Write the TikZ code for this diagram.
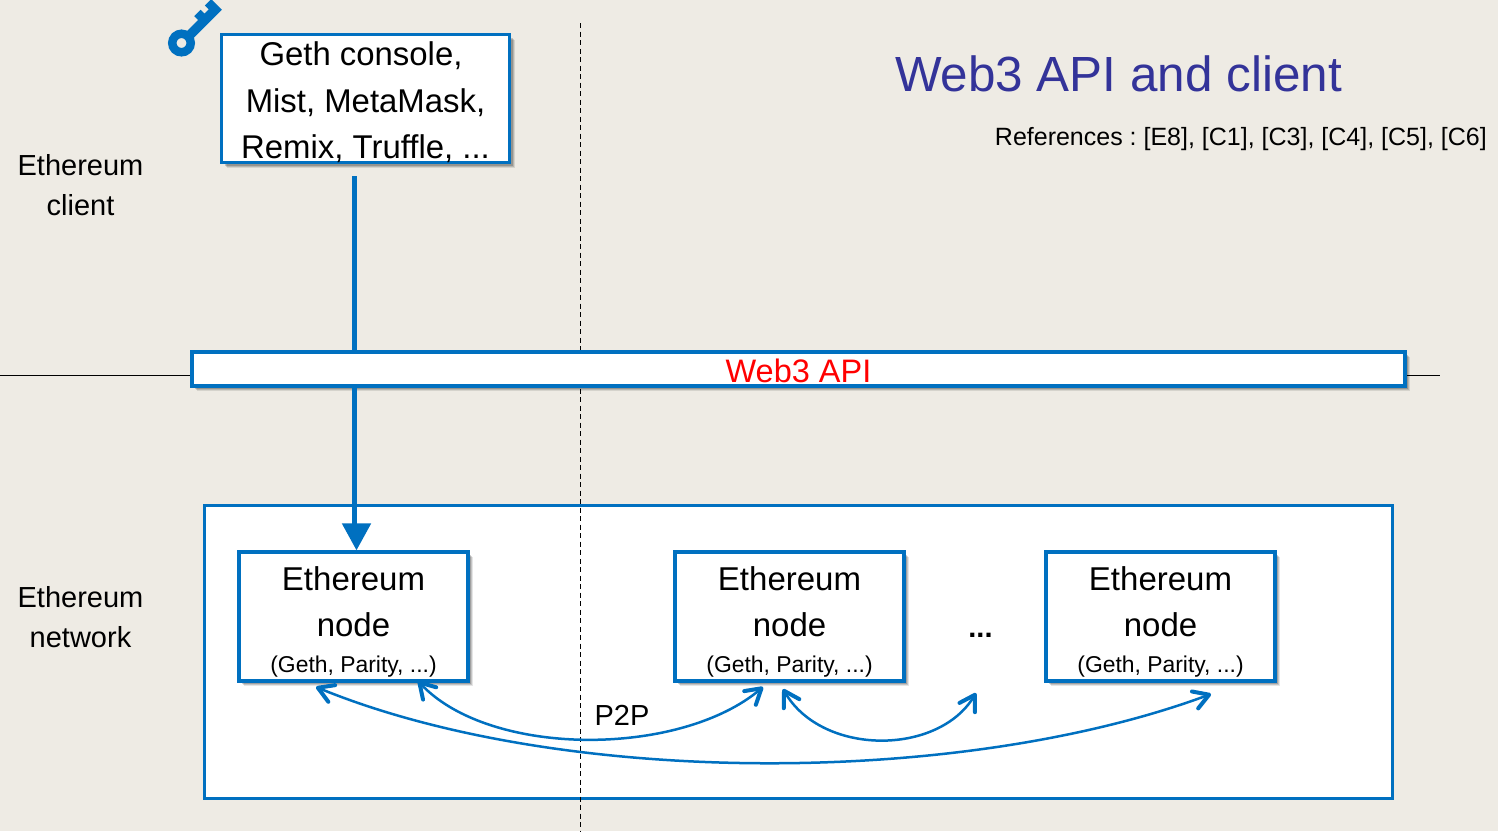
\documentclass[tikz,border=0pt]{standalone}
\usepackage{fontspec}
\setmainfont{Liberation Sans}
\usetikzlibrary{arrows.meta,shadows}
\definecolor{bg}{HTML}{EEEBE4}
\definecolor{ublue}{HTML}{0070C0}
\definecolor{titleblue}{HTML}{333399}
\tikzset{
  shadowed/.style={
    general shadow={shadow xshift=5pt,shadow yshift=-5pt,opacity=.10,fill=black},
    general shadow={shadow xshift=4pt,shadow yshift=-4pt,opacity=.14,fill=black},
    general shadow={shadow xshift=3pt,shadow yshift=-3pt,opacity=.18,fill=black}},
  bluebox/.style={draw=ublue,fill=white,line width=3.7pt,inner sep=0pt,align=flush center,shadowed},
  nodebox/.style={bluebox,minimum width=228.5pt,minimum height=128.5pt,text width=228.5pt,text height=36pt,text depth=89pt,font=\fontsize{33}{46}\selectfont},
  sidelabel/.style={align=flush center,inner sep=0pt,font=\fontsize{29}{40}\selectfont},
  hub/.style={line width=5pt,ublue},
  barb/.tip={Straight Barb[length=15pt,width=18pt,line width=4pt,round]},
  peer/.style={draw=ublue,line width=2.5pt,{barb}-{barb}},
  axisline/.style={black,line width=1pt}
}
\newcommand{\subtxt}{\fontsize{22.9}{26}\selectfont (Geth, Parity, ...)}
\begin{document}
\begin{tikzpicture}[x=1pt,y=-1pt]
\frenchspacing
\useasboundingbox[fill=bg] (0,0) rectangle (1498,831);
% axes
\coordinate (vtop) at (580.5,23);
\coordinate (vbot) at (580.5,831);
\coordinate (hl) at (0,375.5);
\coordinate (hr) at (1440,375.5);
\draw[axisline] (hl) -- (hr);
% network
\node[draw=ublue,fill=white,line width=3pt,minimum width=1188.5pt,minimum height=293.5pt,inner sep=0pt] (net) at (798.5,652) {};
\draw[black,line width=1pt,dash pattern=on 5pt off 3.5pt] (vtop) -- (vbot);
% client box
\node[bluebox,minimum width=288pt,minimum height=128pt,text width=288pt,text height=29.5pt,text depth=95pt,font=\fontsize{32.9}{46.3}\selectfont] (client) at (365.5,98.5) {Geth console,\hspace*{9pt}\null\\Mist, MetaMask,\\Remix, Truffle, ...};
% API
\node[bluebox,minimum width=1212.5pt,minimum height=33.5pt,text width=1212.5pt,text height=29.5pt,text depth=3pt,font=\fontsize{32.5}{36}\selectfont,text=red] (api) at (798.5,369) {Web3 API};
% ethereum nodes
\node[nodebox] (n1) at (353.5,616.5) {Ethereum\\node\\[-10pt]\subtxt};
\node[nodebox] (n2) at (789.5,616.5) {Ethereum\\node\\[-10pt]\subtxt};
\node[nodebox] (n3) at (1160.5,616.5) {Ethereum\\node\\[-10pt]\subtxt};
% hub connectors
\coordinate (cs) at (354,176);
\coordinate (hd) at (354,527);
\coordinate (hx) at (356.5,524);
\draw[hub] (cs) -- (cs |- api.north);
\draw[hub] (cs |- api.south) -- (hd);
\draw[hub,-{Triangle[length=27pt,width=28pt]}] (hx) -- (hx |- n1.north);
% peers
\coordinate (a1) at (418,681);
\coordinate (a2) at (763,687);
\coordinate (b1) at (783,689);
\coordinate (b2) at (976,693);
\coordinate (c1) at (316,687);
\coordinate (c2) at (1211,694);
\draw[peer] (a1) .. controls (490,758) and (680,757) .. (a2);
\draw[peer] (b1) .. controls (822,756) and (938,756) .. (b2);
\draw[peer] (c1) .. controls (560,787) and (960,787) .. (c2);
% texts
\node[anchor=base,inner sep=0pt,font=\fontsize{49.4}{55}\selectfont,text=titleblue] (title) at (1118.5,91) {Web3 API and client};
\node[anchor=base east,inner sep=0pt,font=\fontsize{25}{30}\selectfont] (refs) at (1487,145) {References : [E8], [C1], [C3], [C4], [C5], [C6]};
\node[sidelabel,anchor=base] (lc) at (80.5,215) {Ethereum\\client};
\node[sidelabel,anchor=base] (ln) at (80.5,647) {Ethereum\\network};
\node[anchor=base,inner sep=0pt,font=\fontsize{29}{32}\selectfont] (p2p) at (622,725) {P2P};
\node[anchor=base,inner sep=0pt,font=\fontsize{29}{32}\bfseries\selectfont] (dots) at (980.5,637) {...};
% key
\begin{scope}[shift={(181.5,43)}]
\begin{scope}[x={(.7071pt,.7071pt)},y={(-.7071pt,.7071pt)}]
\draw[ublue,line width=8.5pt] (0,0) circle[radius=9.25];
\fill[ublue] (10,-5) -- (52,-5) -- (52,10) -- (43,10) -- (43,4.5) -- (37,4.5) -- (37,10) -- (28,10) -- (28,4.5) -- (10,4.5) -- cycle;
\end{scope}
\end{scope}
\end{tikzpicture}
\end{document}
